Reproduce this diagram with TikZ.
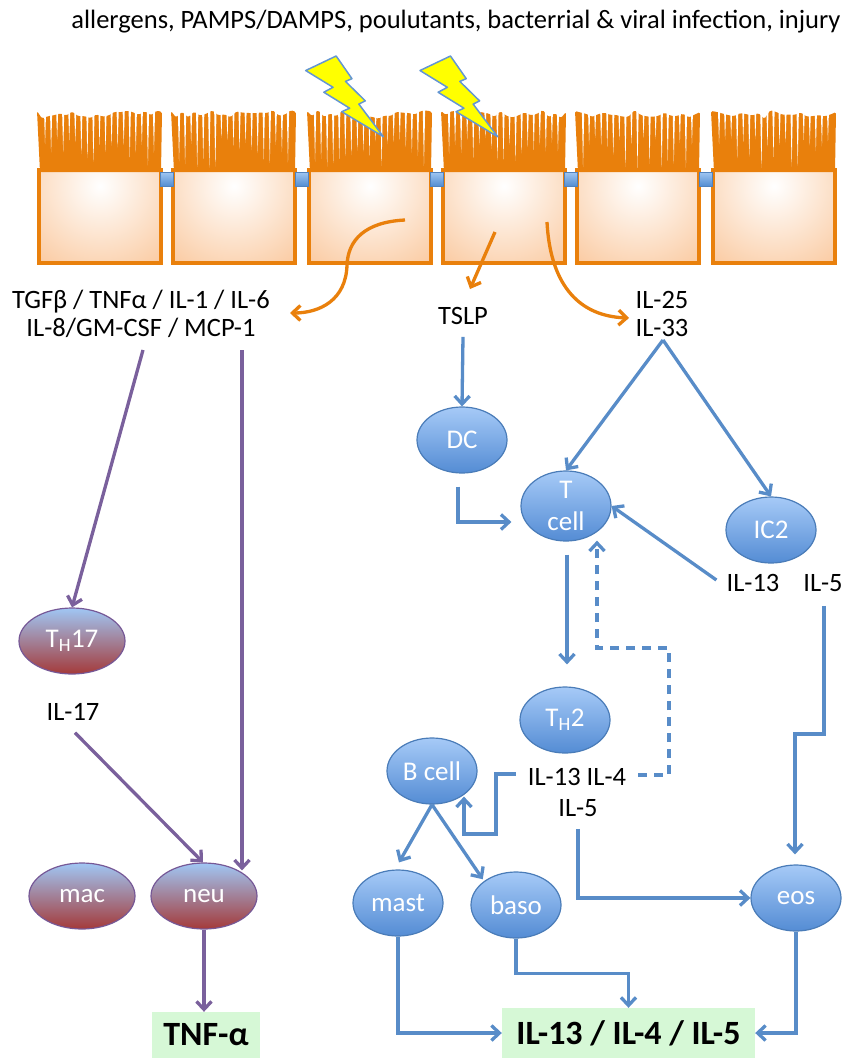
\documentclass[tikz,border=0pt]{standalone}
\usepackage{fontspec}
\setmainfont{Carlito}
\usetikzlibrary{arrows.meta,shapes.geometric,calc}

\definecolor{cilOrange}{RGB}{233,128,12}
\definecolor{bodyPeach}{RGB}{249,188,136}
\definecolor{jnTop}{RGB}{160,198,242}
\definecolor{jnBot}{RGB}{84,142,210}
\definecolor{jnEdge}{RGB}{80,130,190}
\definecolor{boltYellow}{RGB}{255,255,0}
\definecolor{boltEdge}{RGB}{100,150,210}
\definecolor{linkBlue}{RGB}{88,140,200}
\definecolor{linkPurple}{RGB}{122,96,156}
\definecolor{blueTop}{RGB}{166,202,247}
\definecolor{blueBot}{RGB}{84,140,212}
\definecolor{blueEdge}{RGB}{74,124,184}
\definecolor{redTop}{RGB}{160,198,244}
\definecolor{redBot}{RGB}{164,58,58}
\definecolor{redEdge}{RGB}{118,88,150}
\definecolor{boxGreen}{RGB}{214,248,214}

\begin{document}
\begin{tikzpicture}[x=1pt,y=-1pt,
  lbl/.style={inner sep=0pt, font=\fontsize{26.5}{28}\selectfont, align=center},
  cellnode/.style={ellipse, line width=1.2pt, minimum width=90pt, minimum height=66pt,
    inner sep=0pt, text=white, align=center, font=\fontsize{27}{32}\selectfont},
  bluecell/.style={cellnode, draw=blueEdge, top color=blueTop, bottom color=blueBot},
  redcell/.style={cellnode, draw=redEdge, top color=redTop, bottom color=redBot, minimum width=106pt},
  outbox/.style={fill=boxGreen, inner sep=0pt, font=\fontsize{34}{36}\selectfont\bfseries},
  barb/.style={-{Straight Barb[length=8pt,width=15pt]}},
  blueline/.style={draw=linkBlue, line width=3.3pt, barb},
  purpleline/.style={draw=linkPurple, line width=3.3pt, barb},
  orangeline/.style={draw=cilOrange, line width=3.3pt, barb},
  junction/.style={draw=jnEdge, line width=1pt, top color=jnTop, bottom color=jnBot},
  bolt/.style={fill=boltYellow, draw=boltEdge, line width=1.5pt, line join=round},
]
\useasboundingbox (0,0) rectangle (844,1058);
\pgfmathsetseed{11}

% epithelium: six ciliated cells
\foreach \L in {39,173,309,443,577,713}{
  \begin{scope}
    \clip (\L,170) rectangle (\L+122,263);
    \shade[inner color=white, outer color=bodyPeach] (\L+61,186) circle (125);
  \end{scope}
  % ciliary brush: an orange band with a wavy top, split by thin gaps
  \fill[cilOrange, rounded corners=1.5pt] (\L+1,172) -- (\L-2,111)
    \foreach \i in {0,...,19}{ -- ({\L+3+\i*6.05},{110+9*rnd}) }
    -- (\L+123,112) -- (\L+122,172) -- cycle;
  \foreach \i in {1,...,19}
    \fill[white] ({\L+\i*6.05-1.4},100) -- ({\L+\i*6.05+1.4},100) -- ({\L+\i*6.05},{138+30*rnd}) -- cycle;
  \draw[cilOrange, line width=3.6pt] (\L,170) rectangle (\L+122,263);
}
% tight junctions
\foreach \x in {167,302,436.5,570.5,705.5}
  \draw[junction] (\x-6.5,172) rectangle (\x+6.5,186);

% stimuli
\foreach \bx in {305.7,420}
  \draw[bolt, shift={(\bx,56)}, xscale=77.7, yscale=80.7]
    (0.392,0) -- (0.595,0.281) -- (0.512,0.315) -- (0.767,0.556) -- (0.684,0.596)
    -- (1,1) -- (0.464,0.690) -- (0.566,0.647) -- (0.233,0.449) -- (0.352,0.388)
    -- (0,0.180) -- cycle;

% labels
\node[lbl] (stim) at (456,22) {allergens, PAMPS/DAMPS, poulutants, bacterrial \& viral infection, injury};
\node[lbl] (tgf) at (141,314) {TGFβ / TNFα / IL-1 / IL-6\\IL-8/GM-CSF / MCP-1};
\node[lbl] (tslp) at (463,316) {TSLP};
\node[lbl] (il2533) at (662,314) {IL-25\\IL-33};
\node[lbl] (il13a) at (753,583) {IL-13};
\node[lbl] (il5a) at (823,583) {IL-5};
\node[lbl] (il17) at (73,712) {IL-17};
\node[lbl] (th2out) at (577,777) {IL-13 IL-4};
\node[lbl] (il5b) at (578,808) {IL-5};

% cells
\node[bluecell] (dc) at (462,440) {DC};
\node[bluecell] (tcell) at (566,506) {T\\cell};
\node[bluecell] (ic2) at (771,530) {IC2};
\node[bluecell] (th2) at (565,720) {T\textsubscript{H}2};
\node[bluecell] (bcell) at (432,771) {B cell};
\node[bluecell] (mast) at (398,903) {mast};
\node[bluecell] (baso) at (516,905) {baso};
\node[bluecell] (eos) at (796,898) {eos};
\node[redcell] (th17) at (72,641) {T\textsubscript{H}17};
\node[redcell] (mac) at (82,896) {mac};
\node[redcell] (neu) at (204,896) {neu};

% outputs
\node[outbox, minimum width=108pt, minimum height=46pt] (tnf) at (206,1035) {TNF-α};
\node[outbox, minimum width=253pt, minimum height=50pt] (ilbox) at (628.5,1033) {IL-13 / IL-4 / IL-5};

% release from the epithelium
\coordinate (o1s) at (405,220);
\coordinate (o1e) at (290,313);
\coordinate (o2s) at (495,232);
\coordinate (o2e) at (470,289);
\coordinate (o3s) at (547,222);
\coordinate (o3e) at (629,318);
\draw[orangeline] (o1s) .. controls (365,222) and (348,240) .. (347,265)
  .. controls (346,300) and (320,313) .. (o1e);
\draw[orangeline] (o2s) -- (o2e);
\draw[orangeline] (o3s) .. controls (550,280) and (575,316) .. (o3e);

% type 2 branch
\coordinate (apex) at (663,340);
\draw[blueline] ($(tslp.south)+(0,12)$) -- (dc.north);
\draw[blueline] (apex) -- (tcell.north);
\draw[blueline] (apex) -- (ic2.north);
\draw[blueline] ($(dc.south)+(-4,13)$) |- ($(tcell.west)+(-9,16)$);
\draw[blueline] ($(il13a.west)+(-10,-3)$) -- (tcell.east);
\draw[blueline] ($(il5a.south)+(1,14)$) |- (795,734) -- ($(eos.north)+(-1,-10)$);
\draw[blueline] ($(tcell.south)+(1,13)$) -- ($(th2.north)+(2,-22)$);
\draw[blueline, dash pattern=on 9pt off 7pt] (638,775) -| (669,648) -| ($(tcell.south)+(31,-1)$);
\draw[blueline] ($(th2out.west)+(-12,-3)$) -| (496,834) -| ($(bcell.south)+(32,-8)$);
\draw[blueline] ($(il5b.south)+(0,12)$) |- (eos.west);
\draw[blueline] (bcell.south) -- ($(mast.north)+(1,-7)$);
\draw[blueline] (bcell.south) -- ($(baso.north west)+(-1,-2)$);
\draw[blueline] (mast.south) |- (ilbox.west);
\draw[blueline] (baso.south) -- ++(0,35) -| (ilbox.north);
\draw[blueline] (eos.south) |- (ilbox.east);

% type 17 branch
\coordinate (p1) at (143,350);
\coordinate (p2) at (242,350);
\draw[purpleline] (p1) -- (th17.north);
\draw[purpleline] (p2) -- ($(neu.north)+(38,8)$);
\draw[purpleline] ($(il17.south)+(2,12)$) -- ($(neu.north)+(-1,0)$);
\draw[purpleline] (neu.south) -- (neu.south |- tnf.north);
\end{tikzpicture}
\end{document}
